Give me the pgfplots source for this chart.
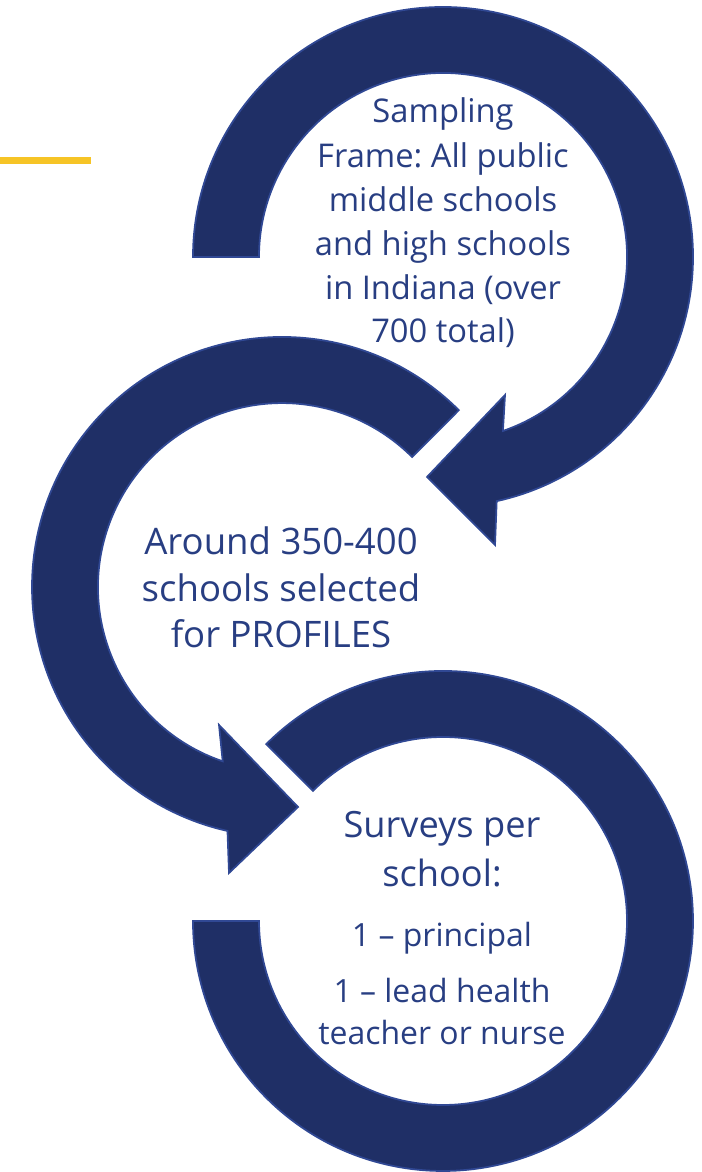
\documentclass[border=0pt]{standalone}
\usepackage{pgfplots}
\pgfplotsset{compat=1.18}
\usepackage{fontspec}
\setmainfont{Open Sans}
\frenchspacing

\definecolor{ringblue}{RGB}{31,47,102}
\definecolor{ringedge}{RGB}{48,72,148}
\definecolor{txtblue}{RGB}{40,62,130}
\definecolor{gold}{RGB}{246,196,38}

\begin{document}
\begin{tikzpicture}[
    ring/.style={fill=ringblue, draw=ringedge, line width=0.5pt, line join=miter},
    lbl/.style={anchor=base, text=txtblue, inner sep=0pt},
    ]
\begin{axis}[
    at={(0,0)}, anchor=south west,
    scale only axis,
    width=7.01cm, height=11.72cm,
    xmin=0, xmax=7.01, ymin=0, ymax=11.72,
    hide axis, clip=false,
    ]
% gold rule top left
\draw[gold, line width=0.07cm] (0,10.115) -- (0.91,10.115);

% top ring, centre (4.43,9.15)
\filldraw[ring] (1.93,9.15) arc[start angle=180, end angle=-77.6, radius=2.5]
    -- (4.95,6.27) -- (4.27,6.95) -- (5.05,7.77) -- (5.029,7.410)
    arc[start angle=-71, end angle=180, radius=1.84] -- cycle;

% middle ring, centre (2.82,5.85)
\filldraw[ring] (4.588,7.618) arc[start angle=45, end angle=257.4, radius=2.5]
    -- (2.29,2.99) -- (2.98,3.65) -- (2.19,4.47) -- (2.227,4.107)
    arc[start angle=251.2, end angle=45, radius=1.84] -- cycle;

% bottom ring, centre (4.43,2.51)
\filldraw[ring] (2.662,4.278) arc[start angle=135, end angle=-180, radius=2.5]
    -- (2.59,2.51) arc[start angle=-180, end angle=135, radius=1.84] -- cycle;

% texts
\begin{scope}[every node/.append style={font=\fontsize{9.3}{11}\selectfont}]
\node[lbl] at (4.43,10.49) {Sampling};
\node[lbl] at (4.43,10.04) {Frame: All public};
\node[lbl] at (4.43,9.60) {middle schools};
\node[lbl] at (4.43,9.16) {and high schools};
\node[lbl] at (4.43,8.72) {in Indiana (over};
\node[lbl] at (4.43,8.29) {700 total)};
\end{scope}

\begin{scope}[every node/.append style={font=\fontsize{10.4}{12}\selectfont}]
\node[lbl] at (2.81,6.17) {Around 350-400};
\node[lbl] at (2.81,5.70) {schools selected};
\node[lbl] at (2.81,5.24) {for PROFILES};
\end{scope}

\begin{scope}[every node/.append style={font=\fontsize{10.3}{12}\selectfont}]
\node[lbl] at (4.42,3.34) {Surveys per};
\node[lbl] at (4.42,2.85) {school:};
\end{scope}
\begin{scope}[every node/.append style={font=\fontsize{9.1}{11}\selectfont}]
\node[lbl] at (4.42,2.25) {1 – principal};
\node[lbl] at (4.42,1.69) {1 – lead health};
\node[lbl] at (4.42,1.27) {teacher or nurse};
\end{scope}
\end{axis}
% page = axis box
\pgfresetboundingbox
\path (0,0) rectangle (7.01,11.72);
\end{tikzpicture}
\end{document}
